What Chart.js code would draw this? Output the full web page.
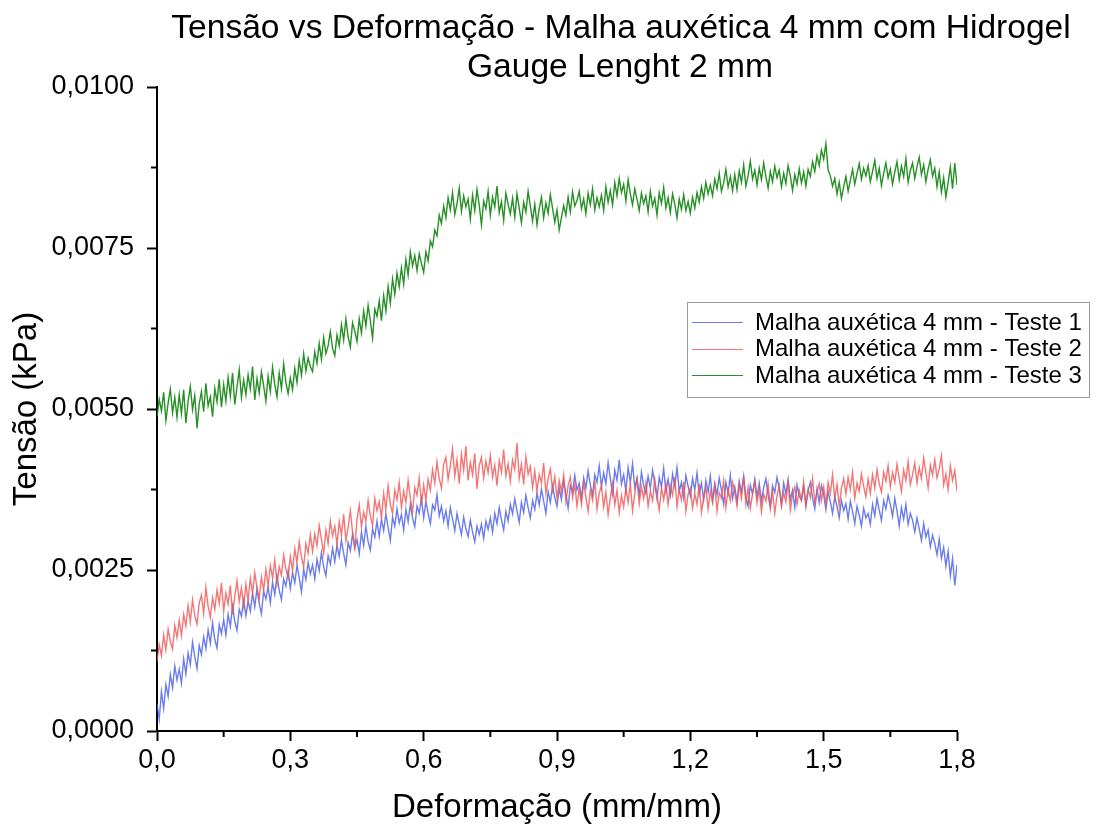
<!DOCTYPE html>
<html>
<head>
<meta charset="utf-8">
<script src="https://cdn.jsdelivr.net/npm/chart.js@4.4.1/dist/chart.umd.min.js"></script>
<style>
  body { margin: 0; background: #fff; }
  #chart { display: block; }
</style>
</head>
<body>
<canvas id="chart" width="1096" height="832"></canvas>
<script>
// ==================== 数据 ====================
// Deformação (mm/mm)
const strain = [
  0.000, 0.005, 0.010, 0.015, 0.020, 0.025, 0.030, 0.035, 0.040, 0.045,
  0.050, 0.055, 0.060, 0.065, 0.070, 0.075, 0.080, 0.085, 0.090, 0.095,
  0.100, 0.105, 0.110, 0.115, 0.120, 0.125, 0.130, 0.135, 0.140, 0.145,
  0.150, 0.155, 0.160, 0.165, 0.170, 0.175, 0.180, 0.185, 0.190, 0.195,
  0.200, 0.205, 0.210, 0.215, 0.220, 0.225, 0.230, 0.235, 0.240, 0.245,
  0.250, 0.255, 0.260, 0.265, 0.270, 0.275, 0.280, 0.285, 0.290, 0.295,
  0.300, 0.305, 0.310, 0.315, 0.320, 0.325, 0.330, 0.335, 0.340, 0.345,
  0.350, 0.355, 0.360, 0.365, 0.370, 0.375, 0.380, 0.385, 0.390, 0.395,
  0.400, 0.405, 0.410, 0.415, 0.420, 0.425, 0.430, 0.435, 0.440, 0.445,
  0.450, 0.455, 0.460, 0.465, 0.470, 0.475, 0.480, 0.485, 0.490, 0.495,
  0.500, 0.505, 0.510, 0.515, 0.520, 0.525, 0.530, 0.535, 0.540, 0.545,
  0.550, 0.555, 0.560, 0.565, 0.570, 0.575, 0.580, 0.585, 0.590, 0.595,
  0.600, 0.605, 0.610, 0.615, 0.620, 0.625, 0.630, 0.635, 0.640, 0.645,
  0.650, 0.655, 0.660, 0.665, 0.670, 0.675, 0.680, 0.685, 0.690, 0.695,
  0.700, 0.705, 0.710, 0.715, 0.720, 0.725, 0.730, 0.735, 0.740, 0.745,
  0.750, 0.755, 0.760, 0.765, 0.770, 0.775, 0.780, 0.785, 0.790, 0.795,
  0.800, 0.805, 0.810, 0.815, 0.820, 0.825, 0.830, 0.835, 0.840, 0.845,
  0.850, 0.855, 0.860, 0.865, 0.870, 0.875, 0.880, 0.885, 0.890, 0.895,
  0.900, 0.905, 0.910, 0.915, 0.920, 0.925, 0.930, 0.935, 0.940, 0.945,
  0.950, 0.955, 0.960, 0.965, 0.970, 0.975, 0.980, 0.985, 0.990, 0.995,
  1.000, 1.005, 1.010, 1.015, 1.020, 1.025, 1.030, 1.035, 1.040, 1.045,
  1.050, 1.055, 1.060, 1.065, 1.070, 1.075, 1.080, 1.085, 1.090, 1.095,
  1.100, 1.105, 1.110, 1.115, 1.120, 1.125, 1.130, 1.135, 1.140, 1.145,
  1.150, 1.155, 1.160, 1.165, 1.170, 1.175, 1.180, 1.185, 1.190, 1.195,
  1.200, 1.205, 1.210, 1.215, 1.220, 1.225, 1.230, 1.235, 1.240, 1.245,
  1.250, 1.255, 1.260, 1.265, 1.270, 1.275, 1.280, 1.285, 1.290, 1.295,
  1.300, 1.305, 1.310, 1.315, 1.320, 1.325, 1.330, 1.335, 1.340, 1.345,
  1.350, 1.355, 1.360, 1.365, 1.370, 1.375, 1.380, 1.385, 1.390, 1.395,
  1.400, 1.405, 1.410, 1.415, 1.420, 1.425, 1.430, 1.435, 1.440, 1.445,
  1.450, 1.455, 1.460, 1.465, 1.470, 1.475, 1.480, 1.485, 1.490, 1.495,
  1.500, 1.505, 1.510, 1.515, 1.520, 1.525, 1.530, 1.535, 1.540, 1.545,
  1.550, 1.555, 1.560, 1.565, 1.570, 1.575, 1.580, 1.585, 1.590, 1.595,
  1.600, 1.605, 1.610, 1.615, 1.620, 1.625, 1.630, 1.635, 1.640, 1.645,
  1.650, 1.655, 1.660, 1.665, 1.670, 1.675, 1.680, 1.685, 1.690, 1.695,
  1.700, 1.705, 1.710, 1.715, 1.720, 1.725, 1.730, 1.735, 1.740, 1.745,
  1.750, 1.755, 1.760, 1.765, 1.770, 1.775, 1.780, 1.785, 1.790, 1.795,
  1.800
]

// Tensão (kPa) - Malha auxética 4 mm - Teste 1 (azul)
const teste1 = [
  0.00042, 0.00018, 0.00061, 0.00035, 0.00072, 0.00054, 0.00088, 0.00067, 0.00101, 0.00079,
  0.00096, 0.00074, 0.00112, 0.00089, 0.00121, 0.00103, 0.00138, 0.00115, 0.00097, 0.00133,
  0.00119, 0.00146, 0.00128, 0.00157, 0.00136, 0.00168, 0.00142, 0.00129, 0.00165, 0.00151,
  0.00173, 0.00149, 0.00181, 0.00162, 0.00194, 0.00170, 0.00156, 0.00189, 0.00178, 0.00203,
  0.00179, 0.00202, 0.00186, 0.00214, 0.00193, 0.00221, 0.00198, 0.00182, 0.00217, 0.00205,
  0.00224, 0.00199, 0.00231, 0.00212, 0.00241, 0.00218, 0.00204, 0.00236, 0.00225, 0.00249,
  0.00221, 0.00246, 0.00230, 0.00257, 0.00238, 0.00216, 0.00251, 0.00235, 0.00262, 0.00244,
  0.00258, 0.00236, 0.00267, 0.00249, 0.00277, 0.00255, 0.00241, 0.00272, 0.00259, 0.00284,
  0.00263, 0.00288, 0.00271, 0.00296, 0.00276, 0.00258, 0.00293, 0.00280, 0.00306, 0.00284,
  0.00297, 0.00275, 0.00309, 0.00288, 0.00318, 0.00294, 0.00281, 0.00314, 0.00301, 0.00326,
  0.00302, 0.00329, 0.00311, 0.00337, 0.00316, 0.00296, 0.00332, 0.00318, 0.00345, 0.00323,
  0.00336, 0.00312, 0.00344, 0.00325, 0.00352, 0.00331, 0.00317, 0.00349, 0.00338, 0.00361,
  0.00331, 0.00356, 0.00338, 0.00322, 0.00351, 0.00343, 0.00367, 0.00334, 0.00349, 0.00326,
  0.00342, 0.00318, 0.00347, 0.00329, 0.00311, 0.00338, 0.00321, 0.00305, 0.00332, 0.00314,
  0.00302, 0.00327, 0.00309, 0.00294, 0.00318, 0.00305, 0.00321, 0.00299, 0.00326, 0.00313,
  0.00331, 0.00309, 0.00338, 0.00322, 0.00347, 0.00328, 0.00312, 0.00341, 0.00326, 0.00352,
  0.00337, 0.00361, 0.00342, 0.00324, 0.00355, 0.00339, 0.00366, 0.00347, 0.00331, 0.00358,
  0.00344, 0.00369, 0.00351, 0.00376, 0.00357, 0.00338, 0.00372, 0.00355, 0.00381, 0.00362,
  0.00349, 0.00377, 0.00359, 0.00388, 0.00368, 0.00346, 0.00381, 0.00372, 0.00397, 0.00374,
  0.00385, 0.00361, 0.00393, 0.00377, 0.00404, 0.00382, 0.00366, 0.00398, 0.00386, 0.00412,
  0.00379, 0.00401, 0.00384, 0.00417, 0.00392, 0.00368, 0.00405, 0.00389, 0.00421, 0.00383,
  0.00398, 0.00372, 0.00409, 0.00386, 0.00415, 0.00378, 0.00393, 0.00366, 0.00402, 0.00381,
  0.00369, 0.00396, 0.00377, 0.00405, 0.00383, 0.00361, 0.00394, 0.00379, 0.00408, 0.00372,
  0.00391, 0.00366, 0.00399, 0.00381, 0.00409, 0.00372, 0.00386, 0.00362, 0.00397, 0.00380,
  0.00365, 0.00392, 0.00374, 0.00401, 0.00368, 0.00385, 0.00359, 0.00389, 0.00371, 0.00396,
  0.00358, 0.00384, 0.00367, 0.00393, 0.00374, 0.00352, 0.00386, 0.00369, 0.00397, 0.00361,
  0.00379, 0.00356, 0.00388, 0.00371, 0.00396, 0.00363, 0.00349, 0.00382, 0.00368, 0.00391,
  0.00364, 0.00385, 0.00357, 0.00378, 0.00392, 0.00366, 0.00348, 0.00381, 0.00370, 0.00394,
  0.00377, 0.00352, 0.00385, 0.00368, 0.00391, 0.00359, 0.00374, 0.00347, 0.00382, 0.00365,
  0.00358, 0.00379, 0.00351, 0.00373, 0.00386, 0.00362, 0.00345, 0.00376, 0.00355, 0.00381,
  0.00367, 0.00344, 0.00372, 0.00356, 0.00338, 0.00364, 0.00349, 0.00331, 0.00358, 0.00342,
  0.00353, 0.00329, 0.00357, 0.00341, 0.00322, 0.00349, 0.00335, 0.00318, 0.00346, 0.00331,
  0.00338, 0.00321, 0.00352, 0.00334, 0.00361, 0.00343, 0.00327, 0.00358, 0.00345, 0.00366,
  0.00352, 0.00333, 0.00361, 0.00342, 0.00318, 0.00347, 0.00329, 0.00352, 0.00321, 0.00338,
  0.00327, 0.00309, 0.00331, 0.00314, 0.00296, 0.00322, 0.00301, 0.00312, 0.00286, 0.00304,
  0.00291, 0.00274, 0.00298, 0.00268, 0.00285, 0.00256, 0.00279, 0.00241, 0.00268, 0.00226,
  0.00258
]

// Tensão (kPa) - Malha auxética 4 mm - Teste 2 (vermelho)
const teste2 = [
  0.00108, 0.00134, 0.00117, 0.00149, 0.00126, 0.00158, 0.00139, 0.00127, 0.00164, 0.00145,
  0.00172, 0.00148, 0.00181, 0.00163, 0.00195, 0.00170, 0.00204, 0.00179, 0.00166, 0.00199,
  0.00211, 0.00182, 0.00223, 0.00194, 0.00176, 0.00207, 0.00189, 0.00219, 0.00198, 0.00230,
  0.00186, 0.00214, 0.00197, 0.00226, 0.00181, 0.00209, 0.00233, 0.00201, 0.00222, 0.00194,
  0.00228, 0.00203, 0.00237, 0.00214, 0.00246, 0.00222, 0.00205, 0.00239, 0.00218, 0.00251,
  0.00226, 0.00257, 0.00238, 0.00266, 0.00229, 0.00255, 0.00242, 0.00273, 0.00251, 0.00238,
  0.00271, 0.00249, 0.00283, 0.00262, 0.00294, 0.00270, 0.00255, 0.00291, 0.00276, 0.00305,
  0.00279, 0.00306, 0.00288, 0.00319, 0.00297, 0.00276, 0.00312, 0.00291, 0.00326, 0.00303,
  0.00318, 0.00289, 0.00325, 0.00304, 0.00337, 0.00296, 0.00316, 0.00342, 0.00309, 0.00285,
  0.00329, 0.00351, 0.00317, 0.00340, 0.00326, 0.00358, 0.00334, 0.00319, 0.00361, 0.00342,
  0.00356, 0.00331, 0.00369, 0.00344, 0.00381, 0.00352, 0.00338, 0.00374, 0.00359, 0.00386,
  0.00347, 0.00373, 0.00355, 0.00389, 0.00362, 0.00340, 0.00378, 0.00366, 0.00393, 0.00351,
  0.00382, 0.00359, 0.00391, 0.00374, 0.00406, 0.00385, 0.00418, 0.00392, 0.00377, 0.00414,
  0.00425, 0.00391, 0.00412, 0.00438, 0.00396, 0.00421, 0.00384, 0.00430, 0.00405, 0.00442,
  0.00389, 0.00417, 0.00398, 0.00431, 0.00376, 0.00412, 0.00425, 0.00393, 0.00419, 0.00401,
  0.00428, 0.00394, 0.00413, 0.00381, 0.00420, 0.00402, 0.00437, 0.00396, 0.00415, 0.00388,
  0.00421, 0.00406, 0.00447, 0.00392, 0.00414, 0.00383, 0.00426, 0.00399, 0.00411, 0.00378,
  0.00404, 0.00372, 0.00398, 0.00385, 0.00416, 0.00369, 0.00392, 0.00407, 0.00374, 0.00395,
  0.00361, 0.00389, 0.00372, 0.00398, 0.00356, 0.00381, 0.00394, 0.00362, 0.00383, 0.00349,
  0.00377, 0.00352, 0.00386, 0.00363, 0.00341, 0.00374, 0.00358, 0.00389, 0.00345, 0.00369,
  0.00381, 0.00348, 0.00371, 0.00336, 0.00362, 0.00385, 0.00351, 0.00374, 0.00339, 0.00366,
  0.00348, 0.00377, 0.00355, 0.00384, 0.00342, 0.00369, 0.00391, 0.00353, 0.00379, 0.00361,
  0.00386, 0.00349, 0.00372, 0.00358, 0.00391, 0.00365, 0.00343, 0.00378, 0.00359, 0.00384,
  0.00352, 0.00381, 0.00366, 0.00394, 0.00348, 0.00375, 0.00359, 0.00387, 0.00341, 0.00368,
  0.00377, 0.00346, 0.00369, 0.00352, 0.00384, 0.00339, 0.00363, 0.00378, 0.00345, 0.00372,
  0.00355, 0.00382, 0.00341, 0.00370, 0.00362, 0.00389, 0.00347, 0.00375, 0.00358, 0.00386,
  0.00371, 0.00349, 0.00383, 0.00361, 0.00395, 0.00352, 0.00378, 0.00346, 0.00369, 0.00387,
  0.00354, 0.00376, 0.00340, 0.00368, 0.00357, 0.00383, 0.00346, 0.00372, 0.00338, 0.00365,
  0.00381, 0.00349, 0.00370, 0.00356, 0.00388, 0.00343, 0.00367, 0.00379, 0.00352, 0.00374,
  0.00359, 0.00387, 0.00348, 0.00376, 0.00363, 0.00392, 0.00354, 0.00371, 0.00384, 0.00358,
  0.00379, 0.00352, 0.00386, 0.00369, 0.00398, 0.00361, 0.00383, 0.00349, 0.00377, 0.00392,
  0.00368, 0.00394, 0.00375, 0.00402, 0.00361, 0.00385, 0.00372, 0.00399, 0.00380, 0.00364,
  0.00391, 0.00369, 0.00398, 0.00377, 0.00406, 0.00384, 0.00371, 0.00402, 0.00388, 0.00412,
  0.00379, 0.00401, 0.00386, 0.00414, 0.00392, 0.00372, 0.00405, 0.00389, 0.00418, 0.00383,
  0.00398, 0.00416, 0.00385, 0.00409, 0.00392, 0.00424, 0.00401, 0.00378, 0.00413, 0.00397,
  0.00421, 0.00393, 0.00407, 0.00428, 0.00382, 0.00399, 0.00375, 0.00412, 0.00389, 0.00404,
  0.00372
]

// Tensão (kPa) - Malha auxética 4 mm - Teste 3 (verde)
const teste3 = [
  0.00488, 0.00515, 0.00497, 0.00526, 0.00482, 0.00509, 0.00531, 0.00494, 0.00518, 0.00487,
  0.00522, 0.00493, 0.00530, 0.00478, 0.00512, 0.00535, 0.00499, 0.00521, 0.00470, 0.00508,
  0.00527, 0.00496, 0.00540, 0.00505, 0.00519, 0.00488, 0.00532, 0.00511, 0.00546, 0.00503,
  0.00538, 0.00512, 0.00549, 0.00520, 0.00556, 0.00507, 0.00534, 0.00561, 0.00518, 0.00545,
  0.00522, 0.00553, 0.00531, 0.00566, 0.00514, 0.00547, 0.00525, 0.00558, 0.00536, 0.00512,
  0.00551, 0.00527, 0.00565, 0.00538, 0.00519, 0.00556, 0.00532, 0.00570, 0.00541, 0.00524,
  0.00548, 0.00530, 0.00563, 0.00541, 0.00575, 0.00552, 0.00586, 0.00559, 0.00579, 0.00566,
  0.00558, 0.00589, 0.00571, 0.00602, 0.00577, 0.00611, 0.00586, 0.00598, 0.00620, 0.00594,
  0.00583, 0.00615, 0.00598, 0.00631, 0.00607, 0.00640, 0.00612, 0.00596, 0.00634, 0.00621,
  0.00605, 0.00640, 0.00618, 0.00652, 0.00629, 0.00661, 0.00637, 0.00610, 0.00655, 0.00644,
  0.00668, 0.00637, 0.00676, 0.00652, 0.00690, 0.00664, 0.00702, 0.00678, 0.00711, 0.00690,
  0.00719, 0.00694, 0.00732, 0.00708, 0.00744, 0.00722, 0.00738, 0.00715, 0.00741, 0.00726,
  0.00712, 0.00744, 0.00730, 0.00761, 0.00752, 0.00778, 0.00769, 0.00801, 0.00788, 0.00815,
  0.00797, 0.00828, 0.00809, 0.00836, 0.00802, 0.00819, 0.00843, 0.00807, 0.00831, 0.00814,
  0.00826, 0.00795, 0.00832, 0.00808, 0.00841, 0.00817, 0.00786, 0.00823, 0.00811, 0.00838,
  0.00801, 0.00829, 0.00814, 0.00846, 0.00805, 0.00822, 0.00793, 0.00835, 0.00818, 0.00803,
  0.00827, 0.00798, 0.00834, 0.00812, 0.00789, 0.00821, 0.00806, 0.00838, 0.00815, 0.00792,
  0.00818, 0.00786, 0.00811, 0.00829, 0.00797, 0.00820, 0.00804, 0.00833, 0.00812, 0.00790,
  0.00809, 0.00778, 0.00797, 0.00816, 0.00801, 0.00829, 0.00806, 0.00837, 0.00815, 0.00824,
  0.00838, 0.00811, 0.00826, 0.00803, 0.00835, 0.00817, 0.00842, 0.00809, 0.00828, 0.00814,
  0.00832, 0.00808, 0.00845, 0.00821, 0.00839, 0.00817, 0.00852, 0.00831, 0.00858, 0.00836,
  0.00849, 0.00823, 0.00856, 0.00834, 0.00817, 0.00842, 0.00826, 0.00808, 0.00835, 0.00819,
  0.00831, 0.00806, 0.00838, 0.00815, 0.00827, 0.00801, 0.00836, 0.00819, 0.00844, 0.00812,
  0.00828, 0.00805, 0.00834, 0.00818, 0.00797, 0.00826, 0.00810, 0.00833, 0.00808, 0.00822,
  0.00804, 0.00829, 0.00812, 0.00836, 0.00821, 0.00845, 0.00827, 0.00852, 0.00834, 0.00848,
  0.00831, 0.00857, 0.00842, 0.00866, 0.00838, 0.00851, 0.00872, 0.00845, 0.00861, 0.00839,
  0.00864, 0.00841, 0.00870, 0.00852, 0.00879, 0.00846, 0.00862, 0.00885, 0.00857, 0.00871,
  0.00848, 0.00874, 0.00856, 0.00882, 0.00861, 0.00843, 0.00869, 0.00853, 0.00877, 0.00859,
  0.00871, 0.00845, 0.00866, 0.00850, 0.00878, 0.00862, 0.00839, 0.00864, 0.00849, 0.00873,
  0.00851, 0.00868, 0.00846, 0.00872, 0.00861, 0.00884, 0.00869, 0.00893, 0.00878, 0.00902,
  0.00888, 0.00912, 0.00871, 0.00862, 0.00846, 0.00858, 0.00834, 0.00852, 0.00827, 0.00845,
  0.00861, 0.00838, 0.00855, 0.00872, 0.00849, 0.00866, 0.00881, 0.00857, 0.00874, 0.00862,
  0.00878, 0.00853, 0.00869, 0.00886, 0.00858, 0.00874, 0.00847, 0.00866, 0.00882, 0.00859,
  0.00873, 0.00849, 0.00868, 0.00884, 0.00856, 0.00877, 0.00861, 0.00889, 0.00852, 0.00870,
  0.00882, 0.00858, 0.00876, 0.00891, 0.00864, 0.00879, 0.00853, 0.00872, 0.00887, 0.00861,
  0.00874, 0.00845, 0.00868, 0.00837, 0.00859, 0.00829, 0.00851, 0.00876, 0.00842, 0.00882,
  0.00848
]

const seriesNames = [
  'Malha auxética 4 mm - Teste 1',
  'Malha auxética 4 mm - Teste 2',
  'Malha auxética 4 mm - Teste 3'
]
const seriesColors = ['rgba(70, 92, 232, 0.8)', 'rgba(240, 84, 84, 0.8)', 'rgba(14, 132, 14, 0.9)']

const xMinor = [0.15, 0.45, 0.75, 1.05, 1.35, 1.65]
const yMinor = [0.00125, 0.00375, 0.00625, 0.00875]

const titleLines = ['Tensão vs Deformação - Malha auxética 4 mm com Hidrogel', 'Gauge Lenght 2 mm']

const FONT = "'Liberation Sans', Arial, sans-serif"
Chart.defaults.font.family = FONT
Chart.defaults.color = '#000'

const toPoints = (ys) => strain.map((x, i) => ({ x, y: ys[i] }))

// ==================== 插件 ====================
const minorTicks = {
    id: 'minorTicks',
    afterDraw(chart) {
        const { ctx, scales: { x, y } } = chart
        ctx.save()
        ctx.strokeStyle = '#000'
        ctx.lineWidth = 2
        xMinor.forEach(v => {
            const px = x.getPixelForValue(v)
            ctx.beginPath()
            ctx.moveTo(px, y.bottom)
            ctx.lineTo(px, y.bottom + 6)
            ctx.stroke()
        })
        yMinor.forEach(v => {
            const py = y.getPixelForValue(v)
            ctx.beginPath()
            ctx.moveTo(x.left, py)
            ctx.lineTo(x.left - 6, py)
            ctx.stroke()
        })
        ctx.restore()
    }
}

const titleText = {
    id: 'titleText',
    afterDraw(chart) {
        const { ctx } = chart
        ctx.save()
        ctx.fillStyle = '#000'
        ctx.font = `33.6px ${FONT}`
        ctx.textAlign = 'center'
        ctx.textBaseline = 'alphabetic'
        ctx.fillText(titleLines[0], 621, 38)
        ctx.fillText(titleLines[1], 620, 77)
        ctx.restore()
    }
}

const boxLegend = {
    id: 'boxLegend',
    afterDraw(chart) {
        const { ctx } = chart
        ctx.save()
        ctx.fillStyle = '#fff'
        ctx.fillRect(687, 302, 402, 95)
        ctx.strokeStyle = '#9a9a9a'
        ctx.lineWidth = 1
        ctx.strokeRect(687.5, 302.5, 402, 95)
        ctx.font = `24px ${FONT}`
        ctx.textBaseline = 'middle'
        ctx.textAlign = 'left'
        seriesNames.forEach((name, i) => {
            const yy = 322 + i * 26.5
            ctx.strokeStyle = seriesColors[i]
            ctx.beginPath()
            ctx.moveTo(692, Math.round(yy) + 0.5)
            ctx.lineTo(743, Math.round(yy) + 0.5)
            ctx.stroke()
            ctx.fillStyle = '#000'
            ctx.fillText(name, 755, yy + 1)
        })
        ctx.restore()
    }
}

// ==================== 图表 ====================
const commaFixed = (v, d) => Number(v).toFixed(d).replace('.', ',')

new Chart(document.getElementById('chart'), {
    type: 'line',
    data: {
        datasets: [teste1, teste2, teste3].map((ys, i) => ({
            label: seriesNames[i],
            data: toPoints(ys),
            borderColor: seriesColors[i],
            borderWidth: 1.4,
            pointRadius: 0,
            tension: 0,
            fill: false,
            order: 2 - i
        }))
    },
    options: {
        responsive: false,
        animation: false,
        devicePixelRatio: 1,
        layout: { padding: { top: 87, right: 139, bottom: 0, left: 0 } },
        plugins: {
            legend: { display: false },
            title: { display: false },
            tooltip: { enabled: false }
        },
        scales: {
            x: {
                type: 'linear',
                min: 0,
                max: 1.8,
                afterFit: (scale) => { scale.height = 101 },
                border: { color: '#000', width: 2 },
                grid: { drawOnChartArea: false, tickLength: 10, tickWidth: 2, tickColor: '#000' },
                ticks: {
                    stepSize: 0.3,
                    autoSkip: false,
                    maxRotation: 0,
                    padding: 3,
                    font: { size: 27 },
                    callback: (v) => commaFixed(v, 1)
                },
                title: {
                    display: true,
                    text: 'Deformação (mm/mm)',
                    font: { size: 33 },
                    padding: { top: 0, bottom: 4 }
                }
            },
            y: {
                type: 'linear',
                min: 0,
                max: 0.01,
                afterFit: (scale) => { scale.width = 157 },
                border: { color: '#000', width: 2 },
                grid: { drawOnChartArea: false, tickLength: 10, tickWidth: 2, tickColor: '#000' },
                ticks: {
                    stepSize: 0.0025,
                    padding: 13,
                    font: { size: 27 },
                    callback: (v) => commaFixed(v, 4)
                },
                title: {
                    display: true,
                    text: 'Tensão (kPa)',
                    font: { size: 33 },
                    padding: { top: 7, bottom: 0 }
                }
            }
        }
    },
    plugins: [minorTicks, titleText, boxLegend]
})
</script>
</body>
</html>
